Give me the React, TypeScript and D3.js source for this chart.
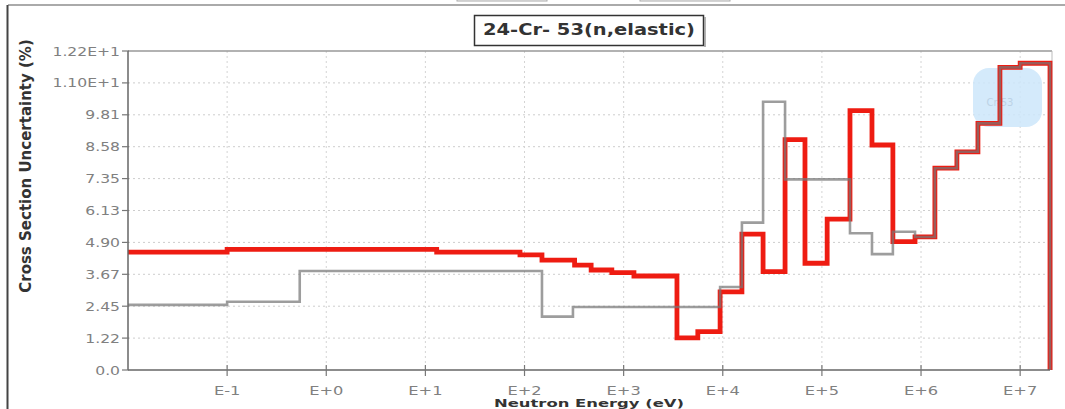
import * as d3 from 'd3';

// group boundaries (eV) and relative uncertainties (%)
const redEdges = [
  0.01, 0.1, 13, 90, 150, 320, 470, 760, 1270, 3450, 5600, 9400, 15600, 25500, 42500, 67500,
  113000, 192000, 320000, 520000, 870000, 1.38e6, 2.3e6, 3.75e6, 6.25e6, 1e7, 2e7,
];
const redValues = [
  4.53, 4.63, 4.53, 4.42, 4.22, 4.03, 3.84, 3.74, 3.61, 1.23, 1.47, 3.0, 5.22, 3.78, 8.85, 4.1,
  5.79, 9.96, 8.64, 4.93, 5.11, 7.75, 8.38, 9.47, 11.62, 11.78,
];

const grayEdges = [
  0.01, 0.1, 0.54, 150, 308, 9400, 15600, 25500, 42500, 192000, 320000, 520000, 870000, 1.38e6,
  2.3e6, 3.75e6, 6.25e6, 1e7, 2e7,
];
const grayValues = [
  2.5, 2.62, 3.8, 2.05, 2.42, 3.19, 5.66, 10.3, 7.32, 5.25, 4.45, 5.31, 5.11, 7.75, 8.38, 9.47,
  11.62, 11.78,
];

const xTickValues = [1e-1, 1, 1e1, 1e2, 1e3, 1e4, 1e5, 1e6, 1e7];
const xTickLabels = ['E-1', 'E+0', 'E+1', 'E+2', 'E+3', 'E+4', 'E+5', 'E+6', 'E+7'];
const yTickValues = [0, 1.225, 2.45, 3.675, 4.9, 6.125, 7.35, 8.575, 9.8, 11.025, 12.25];
const yTickLabels = ['0.0', '1.22', '2.45', '3.67', '4.90', '6.13', '7.35', '8.58', '9.81', '1.10E+1', '1.22E+1'];

const W = 1065;
const H = 409;
const left = 128;
const right = 1050;
const top = 51;
const bottom = 370;
const font = '"DejaVu Sans", sans-serif';

export default function App() {
  const x = d3.scaleLog().domain([1e-2, 2e7]).range([left, right]);
  const y = d3.scaleLinear().domain([0, 12.25]).range([bottom, top]);

  const line = d3
    .line<[number, number]>()
    .x((d) => x(d[0]))
    .y((d) => y(d[1]))
    .curve(d3.curveStepAfter);

  const stepPath = (edges: number[], values: number[]) => {
    const pts: [number, number][] = values.map((v, i) => [edges[i], v]);
    const last = edges[edges.length - 1];
    pts.push([last, values[values.length - 1]]);
    pts.push([last, 0]);
    return line(pts) ?? '';
  };

  return (
    <svg
      width={W}
      height={H}
      viewBox={`0 0 ${W} ${H}`}
      style={{ position: 'absolute', left: 0, top: 0, background: '#fff' }}
      fontFamily={font}
    >
      {/* panel chrome */}
      <rect x={457} y={-20} width={90} height={21} fill="#f4f4f4" stroke="#aaa" />
      <rect x={640} y={-20} width={90} height={21} fill="#f4f4f4" stroke="#aaa" />
      <line x1={8} x2={W} y1={5} y2={5} stroke="#aaa" strokeWidth={2} />
      <line x1={7.5} x2={7.5} y1={5} y2={H} stroke="#444" strokeWidth={2} />

      {/* title box */}
      <rect x={474.5} y={15.5} width={229} height={30} fill="#fff" stroke="#333" strokeWidth={1.5} />
      <line x1={705} x2={705} y1={17} y2={47} stroke="#999" strokeWidth={1.5} />
      <text
        x={589}
        y={35}
        textAnchor="middle"
        fontSize={15}
        fontWeight="bold"
        fill="#333"
        textLength={212}
        lengthAdjust="spacingAndGlyphs"
      >
        24-Cr- 53(n,elastic)
      </text>

      {/* grid */}
      {yTickValues.slice(1, -1).map((v) => (
        <line key={`gy${v}`} x1={left} x2={right} y1={y(v)} y2={y(v)} stroke="#cdcdcd" strokeDasharray="2,3" />
      ))}
      {xTickValues.map((v) => (
        <line key={`gx${v}`} x1={x(v)} x2={x(v)} y1={top} y2={bottom} stroke="#d4d4d4" strokeDasharray="2,3" />
      ))}

      {/* legend blob */}
      <rect x={973} y={68} width={69} height={59} rx={16} fill="#cde6fa" opacity={0.85} />
      <text x={1000} y={106} textAnchor="middle" fontSize={10} fill="#bcd2e6">
        Cr-53
      </text>

      {/* frame */}
      <line x1={left} x2={1052} y1={top} y2={top} stroke="#999" strokeWidth={1.5} />
      <line x1={1052} x2={1052} y1={top} y2={bottom} stroke="#bbb" strokeWidth={1} />

      {/* series */}
      <path d={stepPath(redEdges, redValues)} fill="none" stroke="#ee1c12" strokeWidth={4.8} strokeLinejoin="miter" />
      <path
        d={stepPath(grayEdges, grayValues)}
        fill="none"
        stroke="#777"
        strokeOpacity={0.72}
        strokeWidth={2.6}
        strokeLinejoin="miter"
      />

      {/* axes */}
      <line x1={left} x2={left} y1={top} y2={bottom} stroke="#666" strokeWidth={1.5} />
      <line x1={left} x2={right} y1={bottom} y2={bottom} stroke="#666" strokeWidth={1.5} />
      {yTickValues.map((v, i) => (
        <g key={`yt${v}`}>
          <line x1={122} x2={129} y1={y(v)} y2={y(v)} stroke="#777" strokeWidth={1.2} />
          <text
            transform={`translate(120, ${y(v)}) scale(1.2, 1)`}
            dy="0.35em"
            textAnchor="end"
            fontSize={13}
            fill="#808080"
          >
            {yTickLabels[i]}
          </text>
        </g>
      ))}
      {xTickValues.map((v, i) => (
        <g key={`xt${v}`}>
          <line x1={x(v)} x2={x(v)} y1={365} y2={376} stroke="#777" strokeWidth={1.2} />
          <text
            transform={`translate(${x(v)}, 395) scale(1.25, 1)`}
            textAnchor="middle"
            fontSize={13}
            fill="#808080"
          >
            {xTickLabels[i]}
          </text>
        </g>
      ))}

      {/* axis titles */}
      <text
        transform="translate(31, 166) rotate(-90)"
        textAnchor="middle"
        fontSize={15}
        fontWeight="bold"
        fill="#333"
      >
        Cross Section Uncertainty (%)
      </text>
      <text
        x={589}
        y={406.5}
        textAnchor="middle"
        fontSize={11}
        fontWeight="bold"
        fill="#333"
        textLength={190}
        lengthAdjust="spacingAndGlyphs"
      >
        Neutron Energy (eV)
      </text>
    </svg>
  );
}
